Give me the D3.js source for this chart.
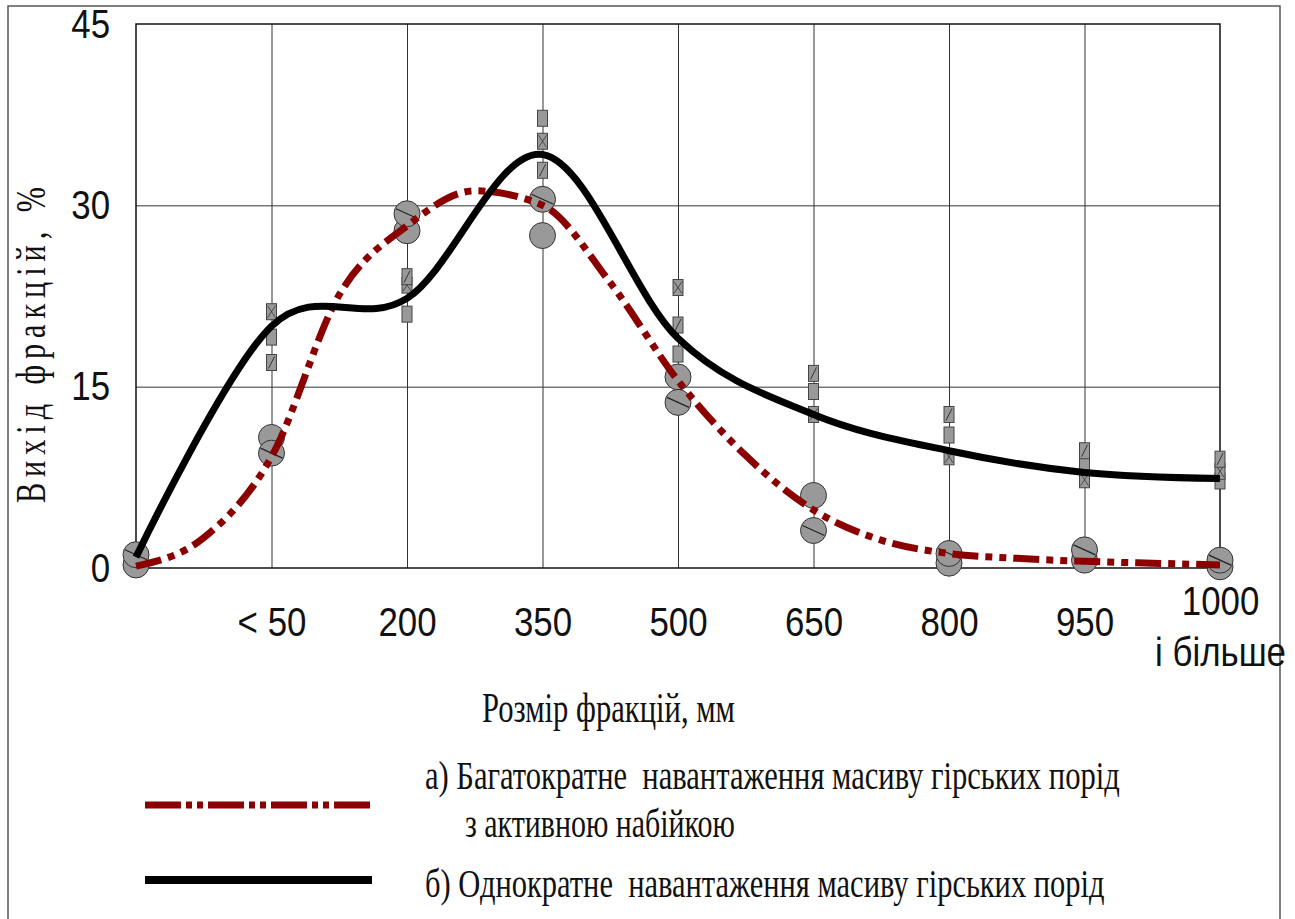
<!DOCTYPE html>
<html>
<head>
<meta charset="utf-8">
<script src="https://cdn.jsdelivr.net/npm/d3@7"></script>
<style>
  body { margin: 0; background: #fff; }
</style>
</head>
<body>
<div id="chart"></div>
<script>
// categories (index 0 = origin, no label)
let categories = ["", "< 50", "200", "350", "500", "650", "800", "950", "1000 і більше"]
let yTicks = [0, 15, 30, 45]

let redX = [0, 0.5, 1, 1.5, 2, 2.5, 3, 3.5, 4, 4.5, 5, 5.5, 6, 6.5, 7, 7.5, 8]
let redLine = [0.15, 2.5, 9.2, 22.6, 28.3, 31.2, 30.0, 23.6, 15.5, 9.3, 4.8, 2.3, 1.2, 0.8, 0.55, 0.4, 0.25]
// curve (b) at categories
let blackLine = [0.9, 20.0, 22.3, 34.2, 19.0, 12.7, 9.7, 7.9, 7.4]

// measured points, circles (a) and rectangles (b)
let circSlash = [1.1, 9.5, 29.3, 30.5, 13.7, 3.1, 1.2, 1.5, 0.65]
let circPlain = [0.25, 10.8, 27.9, 27.5, 15.8, 6.0, 0.4, 0.65, 0.1]
let sqPlain = [null, 19.1, 21.0, 37.2, 17.7, 14.6, 11.0, 8.6, 7.2]
let sqSlash = [null, 17.0, 24.1, 32.9, 20.1, 16.1, 12.7, 9.7, 9.0]
let sqCross = [null, 21.2, 23.4, 35.3, 23.2, 12.7, 9.2, 7.3, 8.0]

let legendA1 = "а) Багатократне  навантаження масиву гірських порід"
let legendA2 = "з активною набійкою"
let legendB = "б) Однократне  навантаження масиву гірських порід"
let xTitle = "Розмір фракцій, мм"
let yTitle = "Вихід фракцій, %"

var W = 1295, H = 919
var plot = {left: 136, right: 1220, top: 24, bottom: 568}
var serif = "'Liberation Serif', 'Times New Roman', serif"
var narrow = "'Liberation Sans Narrow', 'Arial Narrow', sans-serif"

var svg = d3.select("#chart")
  .append("svg")
  .attr("width", W)
  .attr("height", H)

// outer frame
svg.append("rect")
  .attr("x", 8).attr("y", 6)
  .attr("width", 1272).attr("height", 1000)
  .attr("fill", "none")
  .attr("stroke", "#555")
  .attr("stroke-width", 1.5)

var x = d3.scaleLinear()
  .domain([0, categories.length - 1])
  .range([plot.left, plot.right])

var y = d3.scaleLinear()
  .domain([0, 45])
  .range([plot.bottom, plot.top])

// gridlines
svg.append("g")
  .attr("transform", "translate(0," + plot.bottom + ")")
  .call(d3.axisBottom(x).tickValues(d3.range(1, 8)).tickSize(-(plot.bottom - plot.top)).tickFormat(""))
  .call(g => g.select(".domain").remove())
  .selectAll("line").attr("stroke", "#333").attr("stroke-width", 1)

svg.append("g")
  .attr("transform", "translate(" + plot.left + ",0)")
  .call(d3.axisLeft(y).tickValues([15, 30]).tickSize(-(plot.right - plot.left)).tickFormat(""))
  .call(g => g.select(".domain").remove())
  .selectAll("line").attr("stroke", "#333").attr("stroke-width", 1)

// plot border
svg.append("rect")
  .attr("x", plot.left).attr("y", plot.top)
  .attr("width", plot.right - plot.left)
  .attr("height", plot.bottom - plot.top)
  .attr("fill", "none")
  .attr("stroke", "#111")
  .attr("stroke-width", 1.5)

// axis tick labels
var sx = 0.85
var yAx = svg.append("g")
  .attr("transform", "translate(" + plot.left + ",0)")
  .call(d3.axisLeft(y).tickValues(yTicks).tickSize(0).tickPadding(26))
yAx.select(".domain").remove()
yAx.selectAll("text")
  .attr("font-family", narrow)
  .attr("font-size", 41)
  .attr("fill", "#111")
  .attr("x", -26 / sx)
  .attr("transform", "scale(" + sx + ",1)")

var xAx = svg.append("g")
  .attr("transform", "translate(0," + plot.bottom + ")")
  .call(d3.axisBottom(x).tickValues(d3.range(1, categories.length)).tickSize(0).tickPadding(39)
    .tickFormat(i => categories[i]))
xAx.select(".domain").remove()
xAx.selectAll("text")
  .attr("font-family", narrow)
  .attr("font-size", 41)
  .attr("fill", "#111")
  .attr("transform", "scale(" + sx + ",1)")
  .each(function(i) {
    var t = d3.select(this)
    var parts = categories[i].split(" ")
    if (parts.length > 2) {
      t.text(null).attr("y", 18)
      t.append("tspan").attr("x", 0).text(parts[0])
      t.append("tspan").attr("x", 0).attr("dy", 51).text(parts.slice(1).join(" "))
    }
  })

// markers
function rectMark(data, kind) {
  var g = svg.append("g")
  data.forEach(function(v, i) {
    if (v == null) return
    var m = g.append("g").attr("transform", "translate(" + x(i) + "," + y(v) + ")")
    m.append("rect")
      .attr("x", -5).attr("y", -8)
      .attr("width", 10).attr("height", 16)
      .attr("fill", "#999")
      .attr("stroke", "#444")
      .attr("stroke-width", 1)
    if (kind == "slash") {
      m.append("line").attr("x1", -3).attr("y1", 6).attr("x2", 3).attr("y2", -6)
        .attr("stroke", "#333").attr("stroke-width", 1)
    }
    if (kind == "cross") {
      m.append("path").attr("d", "M-4,-6L4,6M4,-6L-4,6")
        .attr("stroke", "#333").attr("stroke-width", 0.8).attr("fill", "none")
    }
  })
}
rectMark(sqPlain, "plain")
rectMark(sqCross, "cross")
rectMark(sqSlash, "slash")

function circMark(data, slash) {
  var g = svg.append("g")
  data.forEach(function(v, i) {
    var m = g.append("g").attr("transform", "translate(" + x(i) + "," + y(v) + ")")
    m.append("circle")
      .attr("r", 13)
      .attr("fill", "#999")
      .attr("stroke", "#333")
      .attr("stroke-width", 1)
    if (slash) {
      m.append("line").attr("x1", -11).attr("y1", -5).attr("x2", 11).attr("y2", 5)
        .attr("stroke", "#222").attr("stroke-width", 1.2)
    }
  })
}
circMark(circPlain, false)
circMark(circSlash, true)

// curves
var redPath = d3.line()
  .x((d, i) => x(redX[i]))
  .y(d => y(d))
  .curve(d3.curveMonotoneX)

var blackPath = d3.line()
  .x((d, i) => x(i))
  .y(d => y(d))
  .curve(d3.curveCardinal.tension(0))

var redColor = "#8b0000"

svg.append("path")
  .attr("d", redPath(redLine))
  .attr("fill", "none")
  .attr("stroke", redColor)
  .attr("stroke-width", 7)
  .attr("stroke-dasharray", "26,7,7,7,7,7")

svg.append("path")
  .attr("d", blackPath(blackLine))
  .attr("fill", "none")
  .attr("stroke", "#000")
  .attr("stroke-width", 7)

// squeezed serif text: fit natural width into w by horizontal scaling
function fitText(str, px, py, w, size) {
  var t = svg.append("text")
    .attr("font-family", serif)
    .attr("font-size", size)
    .attr("fill", "#111")
    .style("white-space", "pre")
    .text(str)
  var natural = t.node().getComputedTextLength()
  t.attr("transform", "translate(" + px + "," + py + ") scale(" + (w / natural) + ",1)")
  return t
}

fitText(xTitle, 482, 722, 253, 42)

// y title: condensed glyphs, wide letter spacing
var ysx = 0.72
var yt = svg.append("text")
  .attr("font-family", serif)
  .attr("font-size", 42)
  .attr("fill", "#111")
  .text(yTitle)
var yl = yt.node().getComputedTextLength()
var ls = (316 / ysx - yl) / (yTitle.length - 1)
yt.attr("letter-spacing", ls)
  .attr("transform", "translate(45,503) rotate(-90) scale(" + ysx + ",1)")

// legend
svg.append("line")
  .attr("x1", 145).attr("x2", 370)
  .attr("y1", 805).attr("y2", 805)
  .attr("stroke", redColor)
  .attr("stroke-width", 7)
  .attr("stroke-dasharray", "36,5,6,5,6,5")

svg.append("line")
  .attr("x1", 145).attr("x2", 372)
  .attr("y1", 880).attr("y2", 880)
  .attr("stroke", "#000")
  .attr("stroke-width", 8)

fitText(legendA1, 425, 789, 695, 40)
fitText(legendA2, 465, 837, 270, 40)
fitText(legendB, 425, 897, 680, 40)
</script>
</body>
</html>
